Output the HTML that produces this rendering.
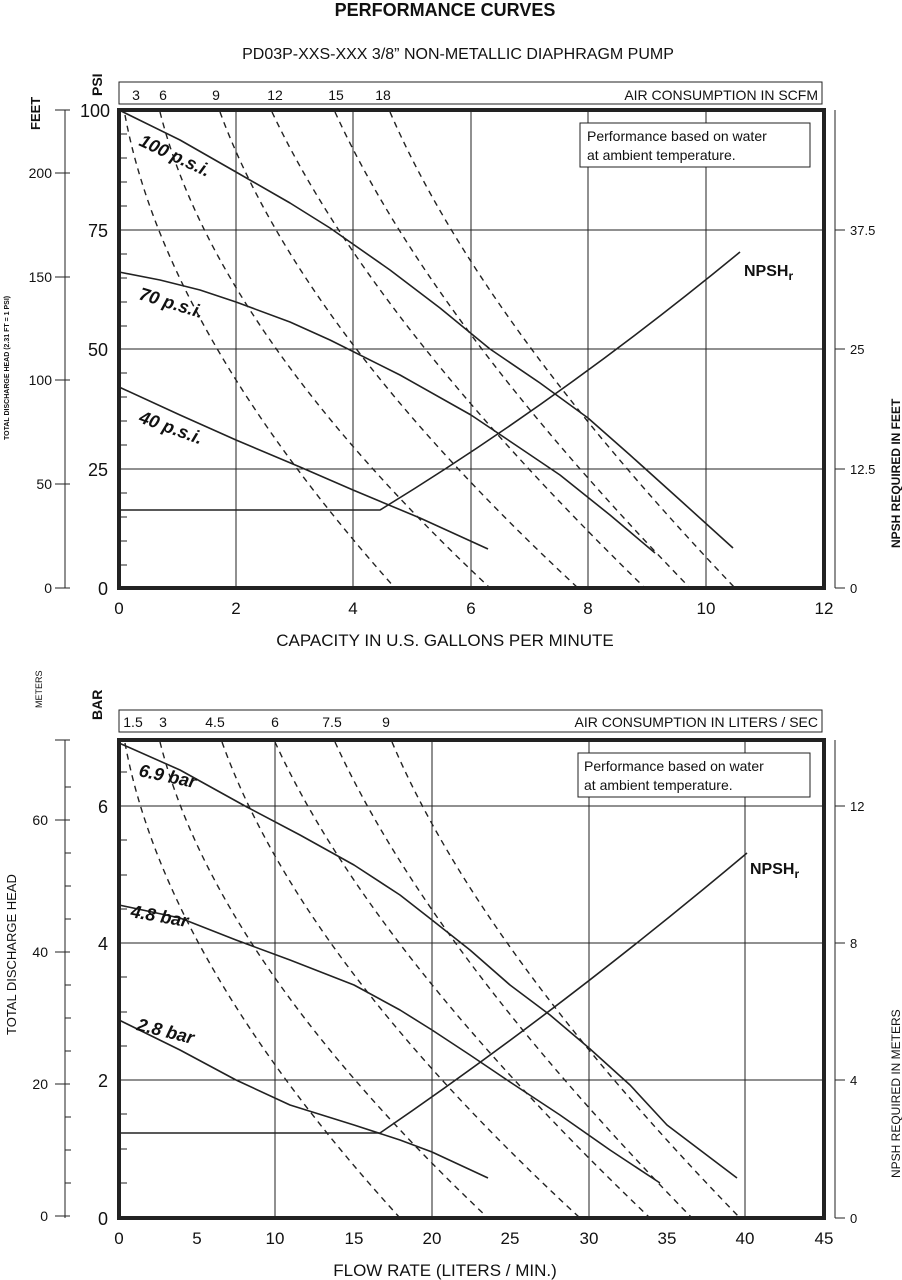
<!DOCTYPE html>
<html><head><meta charset="utf-8"><style>
body{margin:0;background:#fff}
svg{display:block}
text{font-family:"Liberation Sans",sans-serif;fill:#111}
</style></head><body>
<svg width="902" height="1280" viewBox="0 0 902 1280" xmlns="http://www.w3.org/2000/svg">
<text x="445" y="16" font-size="18" font-weight="bold" text-anchor="middle">PERFORMANCE CURVES</text>
<text x="458" y="59" font-size="16" text-anchor="middle">PD03P-XXS-XXX  3/8” NON-METALLIC DIAPHRAGM PUMP</text>

<!-- TOP CHART -->
<g stroke="#222" fill="none">
<rect x="119" y="82" width="703" height="22" stroke-width="1"/>
<g stroke-width="1">
<line x1="236" y1="110" x2="236" y2="588"/><line x1="353" y1="110" x2="353" y2="588"/><line x1="471" y1="110" x2="471" y2="588"/><line x1="588" y1="110" x2="588" y2="588"/><line x1="706" y1="110" x2="706" y2="588"/>
<line x1="119" y1="230" x2="824" y2="230"/><line x1="119" y1="349" x2="824" y2="349"/><line x1="119" y1="469" x2="824" y2="469"/>
<line x1="65" y1="110" x2="65" y2="588"/>
<line x1="55" y1="173" x2="70" y2="173"/><line x1="55" y1="277" x2="70" y2="277"/><line x1="55" y1="380" x2="70" y2="380"/><line x1="55" y1="484" x2="70" y2="484"/><line x1="55" y1="588" x2="70" y2="588"/><line x1="55" y1="110" x2="70" y2="110"/>
<line x1="835" y1="110" x2="835" y2="588"/>
<line x1="835" y1="230" x2="845" y2="230"/><line x1="835" y1="349" x2="845" y2="349"/><line x1="835" y1="469" x2="845" y2="469"/><line x1="835" y1="588" x2="845" y2="588"/>
<path d="M119 134h8M119 158h8M119 182h8M119 206h8M119 254h8M119 278h8M119 302h8M119 326h8M119 373h8M119 397h8M119 421h8M119 445h8M119 493h8M119 517h8M119 541h8M119 565h8"/>
</g>
<g stroke-width="1.4" stroke-dasharray="6,5">
<path d="M125 115 Q165 330 395 588"/>
<path d="M160 112 Q215 330 490 588"/>
<path d="M220 112 Q300 330 578 588"/>
<path d="M272 112 Q370 320 645 588"/>
<path d="M335 112 Q430 320 690 588"/>
<path d="M390 112 Q480 320 735 588"/>
</g>
<g stroke-width="1.6" stroke-linejoin="round">
<polyline points="119,110 180,140 236,172 290,203 330,228 390,270 440,308 490,349 540,383 588,418 630,455 680,500 733,548"/>
<polyline points="119,272 160,280 200,290 236,302 290,322 330,340 400,375 471,415 520,448 560,475 610,515 655,553"/>
<polyline points="119,387 180,415 236,440 300,467 353,490 420,518 488,549"/>
<path d="M119 510 H380 Q560 400 740 252"/>
</g>
<rect x="119" y="110" width="705" height="478" stroke-width="4"/>
<rect x="580" y="123" width="230" height="44" fill="#fff" stroke-width="1"/>
</g>
<text x="587" y="141" font-size="14">Performance based on water</text>
<text x="587" y="160" font-size="14">at ambient temperature.</text>
<g font-size="14" text-anchor="middle"><text x="136" y="100">3</text><text x="163" y="100">6</text><text x="216" y="100">9</text><text x="275" y="100">12</text><text x="336" y="100">15</text><text x="383" y="100">18</text></g>
<text x="818" y="100" font-size="14" text-anchor="end">AIR CONSUMPTION IN SCFM</text>
<g font-size="18" text-anchor="end"><text x="110" y="117">100</text><text x="108" y="237">75</text><text x="108" y="356">50</text><text x="108" y="476">25</text><text x="108" y="595">0</text></g>
<g font-size="14" text-anchor="end"><text x="52" y="178">200</text><text x="52" y="282">150</text><text x="52" y="385">100</text><text x="52" y="489">50</text><text x="52" y="593">0</text></g>
<g font-size="13" text-anchor="start"><text x="850" y="235">37.5</text><text x="850" y="354">25</text><text x="850" y="474">12.5</text><text x="850" y="593">0</text></g>
<g font-size="17" text-anchor="middle"><text x="119" y="614">0</text><text x="236" y="614">2</text><text x="353" y="614">4</text><text x="471" y="614">6</text><text x="588" y="614">8</text><text x="706" y="614">10</text><text x="824" y="614">12</text></g>
<text x="445" y="646" font-size="17" text-anchor="middle">CAPACITY IN U.S. GALLONS PER MINUTE</text>
<text transform="translate(102,96) rotate(-90)" font-size="14" font-weight="bold">PSI</text>
<text transform="translate(40,130) rotate(-90)" font-size="13" font-weight="bold">FEET</text>
<text transform="translate(9,440) rotate(-90)" font-size="7" font-weight="bold">TOTAL DISCHARGE HEAD (2.31 FT = 1 PSI)</text>
<text transform="translate(900,548) rotate(-90)" font-size="12" font-weight="bold">NPSH REQUIRED IN FEET</text>
<g font-size="18" font-weight="bold" font-style="italic">
<text transform="translate(138,145) rotate(25)">100 p.s.i.</text>
<text transform="translate(138,299) rotate(17)">70 p.s.i.</text>
<text transform="translate(138,422) rotate(20)">40 p.s.i.</text>
</g>
<text x="744" y="276" font-size="16" font-weight="bold">NPSH<tspan font-size="12" dy="4">r</tspan></text>

<!-- BOTTOM CHART -->
<g stroke="#222" fill="none">
<rect x="119" y="710" width="703" height="22" stroke-width="1"/>
<g stroke-width="1">
<line x1="275" y1="740" x2="275" y2="1218"/><line x1="432" y1="740" x2="432" y2="1218"/><line x1="589" y1="740" x2="589" y2="1218"/><line x1="745" y1="740" x2="745" y2="1218"/>
<line x1="119" y1="806" x2="824" y2="806"/><line x1="119" y1="943" x2="824" y2="943"/><line x1="119" y1="1080" x2="824" y2="1080"/>
<line x1="65" y1="740" x2="65" y2="1218"/>
<line x1="55" y1="820" x2="70" y2="820"/><line x1="55" y1="952" x2="70" y2="952"/><line x1="55" y1="1084" x2="70" y2="1084"/><line x1="55" y1="1216" x2="70" y2="1216"/><line x1="55" y1="740" x2="70" y2="740"/>
<path d="M65 787h6M65 853h6M65 886h6M65 919h6M65 985h6M65 1018h6M65 1051h6M65 1117h6M65 1150h6M65 1183h6"/>
<line x1="835" y1="740" x2="835" y2="1218"/>
<line x1="835" y1="806" x2="845" y2="806"/><line x1="835" y1="943" x2="845" y2="943"/><line x1="835" y1="1080" x2="845" y2="1080"/><line x1="835" y1="1218" x2="845" y2="1218"/>
<path d="M119 772h8M119 840h8M119 875h8M119 909h8M119 977h8M119 1012h8M119 1046h8M119 1114h8M119 1149h8M119 1183h8"/>
</g>
<g stroke-width="1.4" stroke-dasharray="6,5">
<path d="M125 743 Q165 960 400 1218"/>
<path d="M160 742 Q215 960 488 1218"/>
<path d="M222 742 Q300 960 580 1218"/>
<path d="M275 742 Q370 950 650 1218"/>
<path d="M335 742 Q430 950 692 1218"/>
<path d="M392 742 Q480 950 740 1218"/>
</g>
<g stroke-width="1.6" stroke-linejoin="round">
<polyline points="119,743 180,770 245,806 300,835 354,865 400,895 432,920 470,950 510,985 550,1015 589,1048 630,1085 667,1125 737,1178"/>
<polyline points="119,905 180,918 236,940 290,960 354,985 400,1010 432,1030 470,1055 510,1082 560,1115 610,1150 660,1183"/>
<polyline points="119,1020 180,1050 236,1080 290,1105 354,1125 400,1140 432,1152 488,1178"/>
<path d="M119 1133 H380 Q560 1010 747 853"/>
</g>
<rect x="119" y="740" width="705" height="478" stroke-width="4"/>
<rect x="578" y="753" width="232" height="44" fill="#fff" stroke-width="1"/>
</g>
<text x="584" y="771" font-size="14">Performance based on water</text>
<text x="584" y="790" font-size="14">at ambient temperature.</text>
<g font-size="14" text-anchor="middle"><text x="133" y="727">1.5</text><text x="163" y="727">3</text><text x="215" y="727">4.5</text><text x="275" y="727">6</text><text x="332" y="727">7.5</text><text x="386" y="727">9</text></g>
<text x="818" y="727" font-size="14" text-anchor="end">AIR CONSUMPTION IN LITERS / SEC</text>
<g font-size="18" text-anchor="end"><text x="108" y="813">6</text><text x="108" y="950">4</text><text x="108" y="1087">2</text><text x="108" y="1225">0</text></g>
<g font-size="14" text-anchor="end"><text x="48" y="825">60</text><text x="48" y="957">40</text><text x="48" y="1089">20</text><text x="48" y="1221">0</text></g>
<g font-size="13"><text x="850" y="811">12</text><text x="850" y="948">8</text><text x="850" y="1085">4</text><text x="850" y="1223">0</text></g>
<g font-size="17" text-anchor="middle"><text x="119" y="1244">0</text><text x="197" y="1244">5</text><text x="275" y="1244">10</text><text x="354" y="1244">15</text><text x="432" y="1244">20</text><text x="510" y="1244">25</text><text x="589" y="1244">30</text><text x="667" y="1244">35</text><text x="745" y="1244">40</text><text x="824" y="1244">45</text></g>
<text x="445" y="1276" font-size="17" text-anchor="middle">FLOW RATE (LITERS / MIN.)</text>
<text transform="translate(102,720) rotate(-90)" font-size="14" font-weight="bold">BAR</text>
<text transform="translate(42,708) rotate(-90)" font-size="9">METERS</text>
<text transform="translate(16,1035) rotate(-90)" font-size="13">TOTAL DISCHARGE HEAD</text>
<text transform="translate(900,1178) rotate(-90)" font-size="12">NPSH REQUIRED IN METERS</text>
<g font-size="18" font-weight="bold" font-style="italic">
<text transform="translate(138,776) rotate(12)">6.9  bar</text>
<text transform="translate(130,917) rotate(10)">4.8  bar</text>
<text transform="translate(136,1030) rotate(14)">2.8  bar</text>
</g>
<text x="750" y="874" font-size="16" font-weight="bold">NPSH<tspan font-size="12" dy="4">r</tspan></text>
</svg>
</body></html>
